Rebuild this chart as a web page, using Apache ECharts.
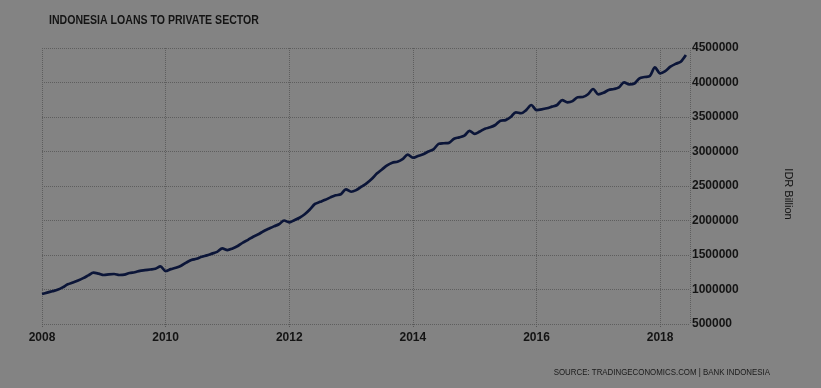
<!DOCTYPE html>
<html>
<head>
<meta charset="utf-8">
<script src="https://cdn.jsdelivr.net/npm/echarts@6/dist/echarts.min.js"></script>
<style>html,body{margin:0;padding:0;background:#838383;}#c{width:821px;height:388px;}</style>
</head>
<body>
<div id="c"></div>
<script>
// Monthly values, Jan 2008 .. Jun 2018 (IDR Billion)
var yearTicks = ['2008', '2010', '2012', '2014', '2016', '2018'];
var values2008 = [935000, 955000, 975000, 995000, 1030000, 1075000, 1100000, 1130000, 1165000, 1205000, 1245000, 1230000];
var values2009 = [1210000, 1220000, 1225000, 1210000, 1215000, 1240000, 1250000, 1270000, 1280000, 1290000, 1300000, 1335000];
var values2010 = [1268000, 1295000, 1316000, 1345000, 1390000, 1428000, 1445000, 1475000, 1495000, 1520000, 1545000, 1595000];
var values2011 = [1572000, 1595000, 1630000, 1680000, 1720000, 1765000, 1800000, 1845000, 1880000, 1915000, 1945000, 2000000];
var values2012 = [1974000, 2005000, 2040000, 2090000, 2160000, 2240000, 2270000, 2300000, 2335000, 2365000, 2380000, 2452000];
var values2013 = [2417000, 2440000, 2490000, 2539000, 2600000, 2680000, 2740000, 2800000, 2838000, 2852000, 2890000, 2955000];
var values2014 = [2910000, 2935000, 2959000, 3000000, 3032000, 3110000, 3120000, 3125000, 3185000, 3205000, 3230000, 3300000];
var values2015 = [3254000, 3290000, 3330000, 3350000, 3384000, 3447000, 3455000, 3500000, 3568000, 3554000, 3600000, 3674000];
var values2016 = [3601000, 3610000, 3626000, 3650000, 3674000, 3746000, 3713000, 3730000, 3786000, 3790000, 3830000, 3906000];
var values2017 = [3829000, 3850000, 3891000, 3905000, 3930000, 4003000, 3974000, 3985000, 4061000, 4080000, 4094000, 4220000];
var values2018 = [4133000, 4165000, 4229000, 4270000, 4302000, 4399000];

var all = [].concat(values2008, values2009, values2010, values2011, values2012, values2013,
  values2014, values2015, values2016, values2017, values2018);
var seriesData = all.map(function (v, i) { return [i, v]; });

var chart = echarts.init(document.getElementById('c'), null, {renderer: 'canvas'});
var txt = '#141414';
chart.setOption({
  backgroundColor: '#838383',
  animation: false,
  grid: {left: 42, right: 131, top: 48, bottom: 64},
  xAxis: {
    type: 'value', min: 0, max: 125.8, interval: 24,
    axisLine: {show: false},
    axisTick: {show: true, length: 3, lineStyle: {color: '#555', type: 'dotted'}},
    splitLine: {show: true, lineStyle: {color: '#5e5e5e', type: 'dotted', width: 1}},
    axisLabel: {
      showMaxLabel: false,
      margin: 8,
      color: txt, fontFamily: 'Liberation Sans', fontWeight: 'bold', fontSize: 12,
      formatter: function (v) { return yearTicks[Math.round(v / 24)] || ''; }
    }
  },
  yAxis: {
    type: 'value', position: 'right', min: 500000, max: 4500000, interval: 500000,
    axisLine: {show: false}, axisTick: {show: false},
    splitLine: {show: true, lineStyle: {color: '#5e5e5e', type: 'dotted', width: 1}},
    axisLabel: {margin: 2, color: txt, fontFamily: 'Liberation Sans', fontWeight: 'bold', fontSize: 12,
      formatter: function (v) { return String(v); }}
  },
  graphic: [{
    type: 'text', x: 49, y: 20.5, scaleX: 0.845,
    style: {text: 'INDONESIA LOANS TO PRIVATE SECTOR', fill: txt,
      font: 'bold 12.5px "Liberation Sans"', textAlign: 'left', textVerticalAlign: 'middle'}
  }, {
    type: 'text', x: 788, y: 194, rotation: -Math.PI / 2,
    style: {text: 'IDR Billion', fill: txt, font: '11px "Liberation Sans"',
      textAlign: 'center', textVerticalAlign: 'middle'}
  }, {
    type: 'text', x: 770, y: 372, scaleX: 0.83,
    style: {text: 'SOURCE: TRADINGECONOMICS.COM | BANK INDONESIA', fill: '#1a1a1a',
      font: '9.5px "Liberation Sans"', textAlign: 'right', textVerticalAlign: 'middle'}
  }],
  series: [{
    type: 'line', data: seriesData, showSymbol: false, smooth: 0.3,
    lineStyle: {color: '#0b1538', width: 2.7}
  }]
});
</script>
</body>
</html>
